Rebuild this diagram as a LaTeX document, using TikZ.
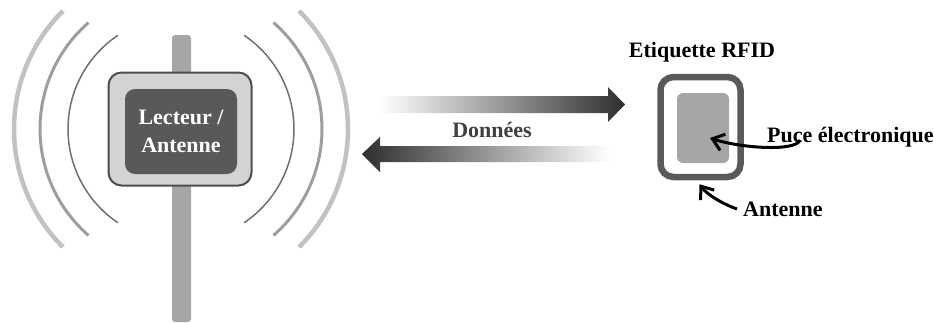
\documentclass[tikz,border=0pt]{standalone}
\usepackage{fontspec}
\setmainfont{Liberation Serif}
\usetikzlibrary{arrows.meta}
\definecolor{polegray}{HTML}{A6A6A6}
\definecolor{frame}{HTML}{4D4D4D}
\definecolor{plate}{HTML}{D3D3D3}
\definecolor{screen}{HTML}{595959}
\definecolor{wave1}{HTML}{707070}
\definecolor{wave2}{HTML}{9E9E9E}
\definecolor{wave3}{HTML}{C2C2C2}
\definecolor{flowdark}{HTML}{2E2E2E}
\definecolor{txtgray}{HTML}{404040}
\definecolor{tagframe}{HTML}{5A5A5A}
\tikzset{
  lbl/.style={font=\bfseries\fontsize{22}{28}\selectfont, inner sep=0pt},
  leader/.style={line width=3pt, arrows={-Straight Barb[length=11pt,width=17pt,line width=3pt]}},
}
\begin{document}
\begin{tikzpicture}[x=1pt,y=-1pt]
\useasboundingbox (0,0) rectangle (934,322);

% radio waves around the reader
\coordinate (c) at (181,129);
\foreach \r/\a/\w/\col in {113/56/1.5/wave1, 141/49/3/wave2, 167/45/4.5/wave3}{
  \draw[\col, line width=\w pt] ([shift={(c)}]180-\a:\r) arc[start angle=180-\a, end angle=180+\a, radius=\r];
  \draw[\col, line width=\w pt] ([shift={(c)}]-\a:\r) arc[start angle=-\a, end angle=\a, radius=\r];
}

% mast
\fill[polegray, rounded corners=3pt] (172,322) -- (172,35) -- (191,35) -- (191,322) -- cycle;

% reader housing
\node[draw=frame, fill=plate, line width=2pt, rounded corners=13pt,
      minimum width=143pt, minimum height=113pt, inner sep=0pt] (reader) at (180,129) {};
\node[fill=screen, rounded corners=10pt, minimum width=112pt, minimum height=85pt,
      inner sep=0pt] (screen) at (181,131.5) {};
\node[lbl, white, align=center] (readerlbl) at (181,131) {Lecteur /\\Antenne};

% data flow arrows
\shade[left color=white, right color=flowdark]
  (380,96) -- (608,96) -- (608,87) -- (625,104.5) -- (608,122) -- (608,113) -- (380,113) -- cycle;
\shade[left color=flowdark, right color=white]
  (609,146) -- (380,146) -- (380,137) -- (362,154) -- (380,172) -- (380,162) -- (609,162) -- cycle;
\node[lbl, txtgray] (data) at (492,130) {Données};

% RFID tag
\node[lbl] (taglbl) at (702,52) {Etiquette RFID};
\node[draw=tagframe, fill=white, line width=6.5pt, rounded corners=13pt,
      minimum width=80pt, minimum height=100pt, inner sep=0pt] (tag) at (700.5,127) {};
\node[fill=polegray, rounded corners=6pt, minimum width=52pt, minimum height=70pt,
      inner sep=0pt] (chip) at (703,128) {};

\node[lbl, anchor=base west] (puce) at (767,142) {Puce électronique};
\node[lbl, anchor=base west] (ant) at (743,216) {Antenne};

\coordinate (puceend) at ([xshift=33pt,yshift=2pt]puce.base west);
\coordinate (chiptip) at ([xshift=7pt,yshift=-10pt]chip.center);
\draw[leader] (puceend) .. controls +(-4,12) and +(30,10) .. (chiptip);

\coordinate (antend) at ([xshift=-6pt,yshift=7pt]ant.base west);
\coordinate (tagtip) at ([xshift=-1pt,yshift=-4pt]tag.south);
\draw[leader] (antend) .. controls +(-12,-4) and +(8,11) .. (tagtip);
\end{tikzpicture}
\end{document}
